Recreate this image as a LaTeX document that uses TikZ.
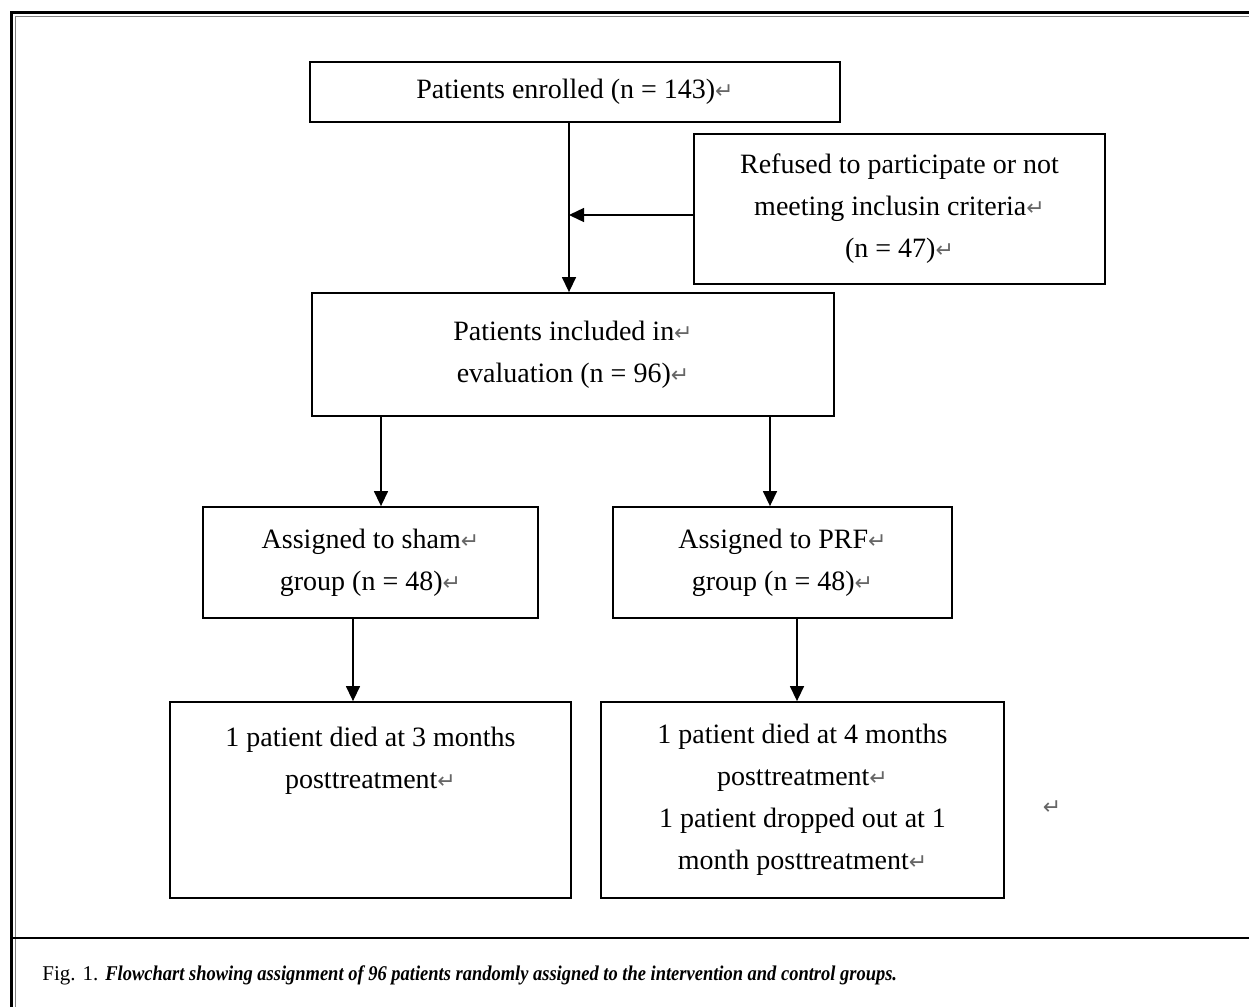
\documentclass[tikz,border=0pt]{standalone}
\usepackage{fontspec}
\setmainfont{Liberation Serif}
\newfontfamily\retfont{DejaVu Sans}
\newfontfamily\capfont[FakeStretch=0.88]{Liberation Serif}
\usetikzlibrary{arrows.meta}
\definecolor{retgray}{gray}{0.4}
\newcommand{\ret}{{\retfont\fontsize{11pt}{11pt}\selectfont\textcolor{retgray}{↵}}}

\begin{document}
\begin{tikzpicture}[x=0.5pt, y=-0.5pt,
    box/.style={draw, line width=0.9pt, inner sep=0pt, align=center, font=\fontsize{14pt}{21pt}\selectfont},
    arr/.style={-{Triangle[length=7.5pt, width=7pt]}, line width=0.7pt}]
    \useasboundingbox (0,0) rectangle (1249,1007);
    \draw[line width=1.5pt] (11.5,1007) -- (11.5,12.5) -- (1249,12.5);
    \draw[gray, line width=0.6pt] (15.5,1007) -- (15.5,16.5) -- (1249,16.5);
    \draw[line width=1.2pt] (11.5,938) -- (1249,938);

    \node[box, minimum width=265pt, minimum height=30pt] (enrol) at (575,92) {Patients enrolled (n = 143)\ret};
    \node[box, minimum width=205.5pt, minimum height=75pt] (refused) at (899.5,209) {Refused to participate or not\\meeting inclusin criteria\ret\\(n = 47)\ret};
    \node[box, minimum width=261pt, minimum height=61.5pt] (incl) at (573,354.5) {Patients included in\ret\\evaluation (n = 96)\ret};
    \node[box, minimum width=167.5pt, minimum height=55.5pt] (sham) at (370.5,562.5) {Assigned to sham\ret\\group (n = 48)\ret};
    \node[box, minimum width=169.5pt, minimum height=55.5pt] (prf) at (782.5,562.5) {Assigned to PRF\ret\\group (n = 48)\ret};
    \node[box, minimum width=200.5pt, minimum height=98pt] (shamout) at (370.5,800) {1 patient died at 3 months\\posttreatment\ret\\\mbox{}\\\mbox{}};
    \node[box, minimum width=201.5pt, minimum height=98pt] (prfout) at (802.5,800) {1 patient died at 4 months\\posttreatment\ret\\1 patient dropped out at 1\\month posttreatment\ret};
    \node[inner sep=0pt] (mark) at (1052,808) {\ret};

    \coordinate (join) at (569,215);
    \draw[arr] (enrol.south -| join) -- (incl.north -| join);
    \draw[arr] (refused.west |- join) -- (join);
    \draw[arr] ([xshift=5.25pt]sham.north |- incl.south) -- ([xshift=5.25pt]sham.north);
    \draw[arr] ([xshift=-6.25pt]prf.north |- incl.south) -- ([xshift=-6.25pt]prf.north);
    \draw[arr] ([xshift=-8.75pt]sham.south) -- ([xshift=-8.75pt]shamout.north);
    \draw[arr] ([xshift=-2.75pt]prfout.north |- prf.south) -- ([xshift=-2.75pt]prfout.north);

    \node[anchor=base west, inner sep=0pt, font=\fontsize{10.5pt}{12pt}\selectfont] (caption) at (42,980) {Fig. 1. {\capfont\textbf{\textit{Flowchart showing assignment of 96 patients randomly assigned to the intervention and control groups.}}}};
\end{tikzpicture}
\end{document}
